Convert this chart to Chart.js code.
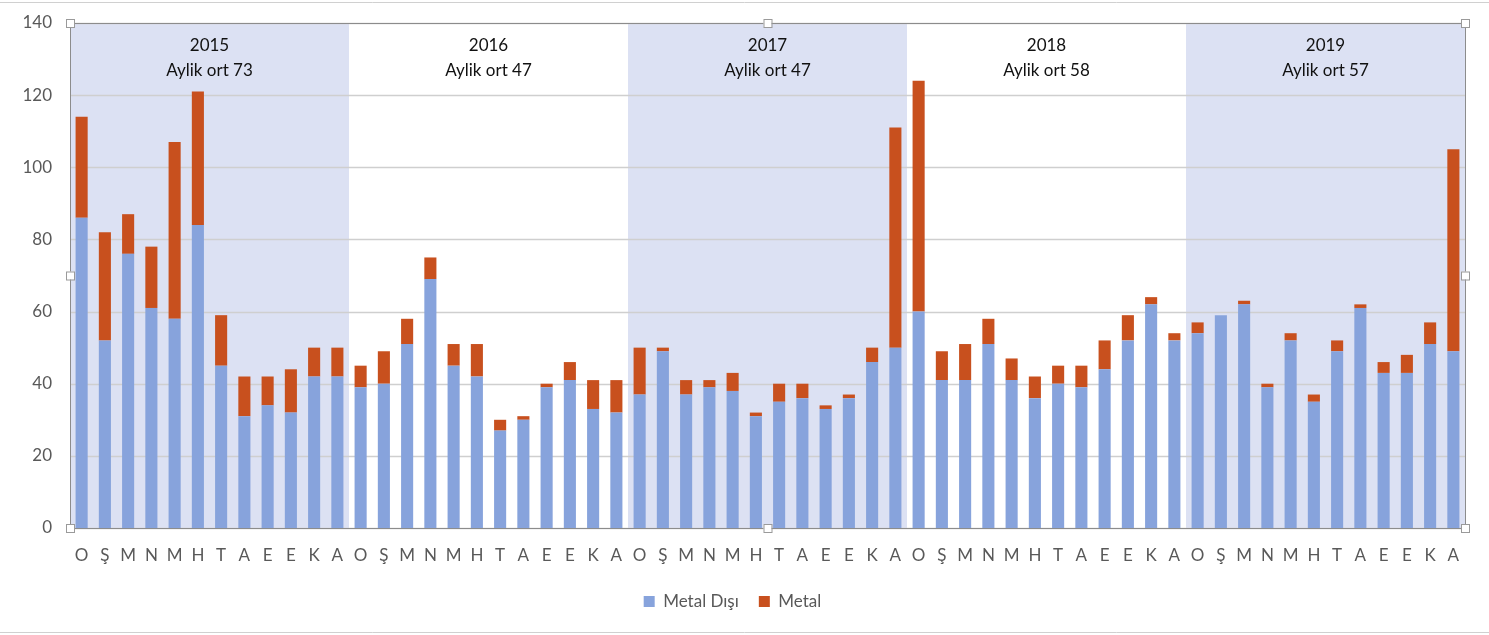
<!DOCTYPE html>
<html>
<head>
<meta charset="utf-8">
<script src="https://cdn.jsdelivr.net/npm/chart.js@4/dist/chart.umd.min.js"></script>
<style>
  html, body { margin: 0; padding: 0; background: #fff; }
  #wrap { position: relative; width: 1489px; height: 635px; }
</style>
</head>
<body>
<div id="wrap"><canvas id="chart"></canvas></div>
<script>
// Month letters, repeated per year
const monthLetters = ['O', 'Ş', 'M', 'N', 'M', 'H', 'T', 'A', 'E', 'E', 'K', 'A'];
const years = ['2015', '2016', '2017', '2018', '2019'];
const yearNotes = ['Aylik ort 73', 'Aylik ort 47', 'Aylik ort 47', 'Aylik ort 58', 'Aylik ort 57'];
const shadedYears = [true, false, true, false, true];

// Metal Dışı values (blue)
const metalDisi = [
    86, 52, 76, 61, 58, 84, 45, 31, 34, 32, 42, 42,
    39, 40, 51, 69, 45, 42, 27, 30, 39, 41, 33, 32,
    37, 49, 37, 39, 38, 31, 35, 36, 33, 36, 46, 50,
    60, 41, 41, 51, 41, 36, 40, 39, 44, 52, 62, 52,
    54, 59, 62, 39, 52, 35, 49, 61, 43, 43, 51, 49
];

// Metal values (orange), stacked on top
const metal = [
    28, 30, 11, 17, 49, 37, 14, 11, 8, 12, 8, 8,
    6, 9, 7, 6, 6, 9, 3, 1, 1, 5, 8, 9,
    13, 1, 4, 2, 5, 1, 5, 4, 1, 1, 4, 61,
    64, 8, 10, 7, 6, 6, 5, 6, 8, 7, 2, 2,
    3, 0, 1, 1, 2, 2, 3, 1, 3, 5, 6, 56
];

const yTicks = [0, 20, 40, 60, 80, 100, 120, 140];

const labels = [];
years.forEach(() => monthLetters.forEach(m => labels.push(m)));

const FONT = 'Lato, "Open Sans", sans-serif';

// Year bands, year captions and frame handles
const bandPlugin = {
    id: 'yearBands',
    beforeDatasetsDraw(chart) {
        const ctx = chart.ctx;
        const x = chart.scales.x;
        const area = chart.chartArea;
        ctx.save();
        years.forEach((yr, i) => {
            const left = i === 0 ? area.left : (x.getPixelForValue(i * 12 - 1) + x.getPixelForValue(i * 12)) / 2;
            const right = i === years.length - 1 ? area.right : (x.getPixelForValue(i * 12 + 11) + x.getPixelForValue(i * 12 + 12)) / 2;
            if (shadedYears[i]) {
                ctx.fillStyle = '#DCE1F3';
                ctx.fillRect(left, area.top, right - left, area.bottom - area.top);
            }
        });
        // grid lines over bands
        const y = chart.scales.y;
        ctx.strokeStyle = '#CFCFCF';
        ctx.lineWidth = 1.5;
        yTicks.forEach(v => {
            const py = Math.round(y.getPixelForValue(v)) + 0.5;
            ctx.beginPath();
            ctx.moveTo(area.left, py);
            ctx.lineTo(area.right, py);
            ctx.stroke();
        });
        ctx.fillStyle = '#111';
        ctx.font = '17px ' + FONT;
        ctx.textAlign = 'center';
        ctx.textBaseline = 'middle';
        years.forEach((yr, i) => {
            const cx = (x.getPixelForValue(i * 12 + 5) + x.getPixelForValue(i * 12 + 6)) / 2;
            ctx.fillText(yr, cx, area.top + 23);
            ctx.fillText(yearNotes[i], cx, area.top + 48);
        });
        ctx.restore();
    },
    afterDraw(chart) {
        const ctx = chart.ctx;
        const area = chart.chartArea;
        ctx.save();
        // plot frame
        ctx.strokeStyle = '#8C8C8C';
        ctx.lineWidth = 1;
        ctx.strokeRect(area.left + 0.5, area.top + 0.5, area.right - area.left, area.bottom - area.top);
        // outer frame lines
        ctx.strokeStyle = '#D0D0D0';
        ctx.beginPath();
        ctx.moveTo(0, 2.5); ctx.lineTo(chart.width, 2.5);
        ctx.moveTo(0, chart.height - 2.5); ctx.lineTo(chart.width, chart.height - 2.5);
        ctx.stroke();
        // selection handles
        const midX = (area.left + area.right) / 2;
        const midY = (area.top + area.bottom) / 2;
        const pts = [
            [area.left, area.top], [midX, area.top], [area.right, area.top],
            [area.left, midY], [area.right, midY],
            [area.left, area.bottom], [midX, area.bottom], [area.right, area.bottom]
        ];
        ctx.fillStyle = '#fff';
        ctx.strokeStyle = '#9A9A9A';
        pts.forEach(p => {
            ctx.fillRect(p[0] - 4, p[1] - 4, 8, 8);
            ctx.strokeRect(p[0] - 3.5, p[1] - 3.5, 8, 8);
        });
        ctx.restore();
    }
};

document.addEventListener('DOMContentLoaded', function() {
    const ctx = document.getElementById('chart').getContext('2d');
    new Chart(ctx, {
        type: 'bar',
        data: {
            labels: labels,
            datasets: [
                {
                    label: 'Metal Dışı',
                    data: metalDisi,
                    backgroundColor: '#87A3DC',
                    stack: 's'
                },
                {
                    label: 'Metal',
                    data: metal,
                    backgroundColor: '#C8501E',
                    stack: 's'
                }
            ]
        },
        options: {
            responsive: true,
            maintainAspectRatio: false,
            animation: false,
            layout: { padding: { left: 0, right: 24, top: 23, bottom: 15 } },
            datasets: {
                bar: { categoryPercentage: 1, barPercentage: 0.52 }
            },
            scales: {
                x: {
                    stacked: true,
                    grid: { display: false, drawTicks: false },
                    border: { display: false },
                    ticks: {
                        autoSkip: false,
                        maxRotation: 0,
                        padding: 17,
                        color: '#595959',
                        font: { family: FONT, size: 17 }
                    },
                    afterFit(scale) { scale.height = 45; scale.paddingLeft = 0; scale.paddingRight = 0; }
                },
                y: {
                    stacked: true,
                    min: 0,
                    max: 140,
                    grid: { display: false, drawTicks: false },
                    border: { display: false },
                    ticks: {
                        stepSize: 20,
                        padding: 18,
                        color: '#595959',
                        font: { family: FONT, size: 17 }
                    },
                    afterFit(scale) { scale.width = 70; scale.paddingTop = 0; scale.paddingBottom = 0; }
                }
            },
            plugins: {
                legend: {
                    display: true,
                    position: 'bottom',
                    labels: {
                        boxWidth: 11,
                        boxHeight: 11,
                        padding: 20,
                        color: '#595959',
                        font: { family: FONT, size: 17 }
                    }
                },
                tooltip: { enabled: false }
            }
        },
        plugins: [bandPlugin]
    });
});
</script>
</body>
</html>
